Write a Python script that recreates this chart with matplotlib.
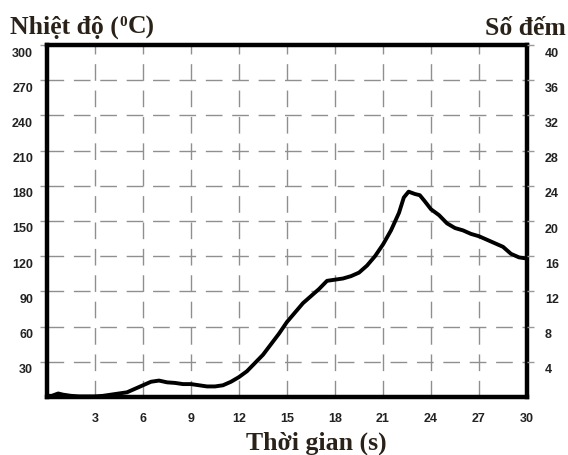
import matplotlib
matplotlib.use("Agg")
import matplotlib.pyplot as plt
from matplotlib.transforms import ScaledTranslation

# ---- data ----
time_s = [0, 0.3, 0.7, 1.0, 1.5, 2, 2.5, 3, 3.5, 4, 4.5, 5, 5.5, 6, 6.5, 7, 7.5, 8,
          8.5, 9, 9.5, 10, 10.5, 11, 11.5, 12, 12.5, 13, 13.5, 14, 14.5, 15, 15.5,
          16, 16.5, 17, 17.5, 18, 18.5, 19, 19.5, 20, 20.5, 21, 21.5, 22, 22.3,
          22.6, 23, 23.3, 23.6, 24, 24.5, 25, 25.5, 26, 26.5, 27, 27.5, 28, 28.5,
          29, 29.5, 30]
temperature = [1, 1, 3, 2, 1, 0.5, 0.5, 0.5, 1, 2, 3, 4, 7, 10, 13, 14, 12.5, 12,
               11, 11, 10, 9, 9, 10, 13, 17, 22, 29, 36, 45, 54, 64, 72,
               80, 86, 92, 99, 100, 101, 103, 106, 112, 120, 130, 142, 157, 170,
               175, 173, 172, 167, 160, 155, 148, 144, 142, 139, 137, 134, 131, 128,
               122, 119, 118]

x_ticks = [3, 6, 9, 12, 15, 18, 21, 24, 27, 30]
left_ticks = [30, 60, 90, 120, 150, 180, 210, 240, 270, 300]
right_ticks = [4, 8, 12, 16, 20, 24, 28, 32, 36, 40]
grid_x = [3, 6, 9, 12, 15, 18, 21, 24, 27]
grid_y = [30, 60, 90, 120, 150, 180, 210, 240, 270]

label_left = "Nhiệt độ ("
label_sup = "0"
label_left2 = "C)"
label_right = "Số đếm"
label_x = "Thời gian (s)"

# ---- figure ----
fig = plt.figure(figsize=(5.68, 4.56), dpi=100)
ax = fig.add_axes([47/568, 1-398/456, 480/568, 352/456])
ax.set_xlim(0, 30)
ax.set_ylim(0, 300)

for gx in grid_x:
    ax.axvline(gx, color="#8f8f8f", lw=1.0, dashes=(12, 7), zorder=1)
for gy in grid_y:
    ax.axhline(gy, color="#8f8f8f", lw=1.0, dashes=(12, 7), zorder=1)

ax.plot(time_s, temperature, color="black", lw=2.8, zorder=3, solid_joinstyle="round")

for s in ax.spines.values():
    s.set_linewidth(3.2)
    s.set_color("black")

tick_font = dict(family="Liberation Sans", weight="bold", size=9)
ax.set_xticks(x_ticks)
ax.set_xticklabels([str(v) for v in x_ticks], **tick_font, color="#222222")
ax.tick_params(axis="x", length=0, pad=11)
ax.set_yticks(left_ticks)
ax.set_yticklabels([str(v) for v in left_ticks], **tick_font, color="#222222")
ax.tick_params(axis="y", length=5, width=1, color="#9a9a9a", pad=5)

ax2 = ax.twinx()
ax2.set_ylim(0, 40)
ax2.set_yticks(right_ticks)
ax2.set_yticklabels([str(v) for v in right_ticks], **tick_font, color="#222222")
ax2.tick_params(axis="y", length=5, width=1, color="#9a9a9a", pad=8)
for s in ax2.spines.values():
    s.set_visible(False)

off = ScaledTranslation(0, -6/100, fig.dpi_scale_trans)
for lab in ax.get_yticklabels() + ax2.get_yticklabels():
    lab.set_transform(lab.get_transform() + off)

title_font = dict(family="Liberation Serif", weight="bold", size=18.5, color="#2a2218")
renderer = fig.canvas.get_renderer()
t1 = fig.text(10/568, 1-34/456, label_left, ha="left", va="baseline", **title_font)
bb = t1.get_window_extent(renderer)
t2 = fig.text(bb.x1/568 + 0.5/568, 1-34/456 + 8/456, label_sup, ha="left", va="baseline",
              family="Liberation Serif", weight="bold", size=11, color="#2a2218")
bb2 = t2.get_window_extent(renderer)
fig.text(bb2.x1/568 + 0.5/568, 1-34/456, label_left2, ha="left", va="baseline", **title_font)

fig.text(566/568, 1-35/456, label_right, ha="right", va="baseline", **title_font)
fig.text(316/568, 1-450/456, label_x, ha="center", va="baseline", **title_font)

fig.savefig("out.png", dpi=100)
